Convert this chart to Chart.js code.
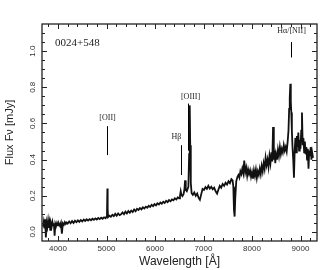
<!DOCTYPE html>
<html><head><meta charset="utf-8">
<script src="https://cdn.jsdelivr.net/npm/chart.js@4"></script>
<style>html,body{margin:0;padding:0;background:#fff}#wrap{width:327px;height:270px}</style>
</head><body><div id="wrap"><canvas id="c" width="327" height="270"></canvas></div>
<script>
const wavelength = [3690,3705,3720,3735,3750,3765,3780,3795,3810,3825,3840,3855,3870,3885,3900,3915,3930,3945,3960,3980,
4000,4020,4040,4060,4080,4100,4120,4140,4160,4180,4200,4230,4260,4290,4320,4350,4380,4410,4440,4470,
4500,4530,4560,4590,4620,4650,4680,4710,4740,4770,4800,4830,4860,4890,4920,4950,4980,5000,5010,5018,5024,5032,
5060,5090,5120,5150,5180,5210,5240,5270,5300,5330,5360,5390,5420,5450,5480,5510,5540,5570,5600,5630,5660,5690,
5720,5750,5780,5810,5840,5870,5900,5930,5960,5990,6020,6050,6080,6110,6140,6170,6200,6230,6260,6290,6320,6350,
6380,6410,6440,6470,6495,6515,6530,6545,6565,6590,6608,6620,6634,6655,6688,6704,6716,6726,6738,6755,6780,6810,
6840,6870,6900,6925,6950,6980,7010,7040,7070,7100,7130,7160,7190,7220,7250,7280,7305,7335,7365,7395,7425,7455,
7485,7515,7545,7575,7600,7615,7628,7642,7655,7675,7700,7720,7740,7760,7780,7800,7820,7840,7860,7880,7900,7920,
7940,7960,7980,8000,8020,8040,8060,8080,8100,8120,8140,8160,8180,8200,8220,8240,8260,8280,8300,8320,8340,8360,
8380,8400,8418,8434,8450,8465,8480,8495,8515,8535,8555,8575,8595,8615,8635,8655,8675,8695,8715,8735,8752,8766,
8778,8790,8800,8810,8822,8835,8850,8865,8880,8895,8910,8925,8940,8955,8970,8985,9000,9015,9030,9045,9060,9075,
9090,9105,9120,9135,9150,9165,9180,9195,9210,9225,9240,9258];
const flux = [0.030,0.055,0.020,0.070,-0.030,0.050,0.028,0.062,0.022,0.052,0.012,0.046,0.030,0.055,0.036,0.048,-0.020,0.044,0.032,0.050,
0.036,0.046,0.034,0.050,-0.010,0.048,0.040,0.054,0.044,0.052,0.046,0.058,0.048,0.060,0.050,0.062,0.054,0.064,0.056,0.066,
0.058,0.068,0.061,0.070,0.063,0.071,0.065,0.073,0.067,0.075,0.069,0.077,0.071,0.079,0.073,0.081,0.076,0.084,0.105,0.240,0.130,0.082,
0.090,0.084,0.095,0.088,0.100,0.090,0.102,0.093,0.098,0.108,0.098,0.112,0.102,0.116,0.106,0.118,0.110,0.124,0.115,0.128,0.122,0.132,
0.125,0.136,0.130,0.140,0.134,0.145,0.138,0.150,0.143,0.154,0.147,0.158,0.152,0.163,0.156,0.167,0.160,0.172,0.165,0.176,0.170,0.180,
0.175,0.186,0.180,0.192,0.186,0.200,0.225,0.205,0.198,0.210,0.240,0.285,0.232,0.225,0.250,0.430,0.700,0.480,0.270,0.215,0.205,0.218,
0.200,0.212,0.188,0.178,0.205,0.238,0.232,0.248,0.238,0.255,0.240,0.250,0.236,0.245,0.225,0.212,0.232,0.255,0.245,0.265,0.255,0.272,
0.262,0.280,0.270,0.292,0.285,0.250,0.120,0.085,0.190,0.280,0.305,0.315,0.300,0.335,0.320,0.350,0.325,0.395,0.330,0.355,0.310,0.345,
0.320,0.340,0.305,0.330,0.295,0.340,0.310,0.345,0.300,0.335,0.315,0.350,0.320,0.365,0.335,0.380,0.350,0.410,0.370,0.400,0.360,0.420,
0.380,0.440,0.390,0.580,0.400,0.450,0.380,0.430,0.400,0.455,0.420,0.470,0.430,0.460,0.440,0.480,0.450,0.470,0.445,0.500,0.560,0.680,
0.740,0.820,0.720,0.660,0.560,0.470,0.400,0.300,0.450,0.520,0.440,0.530,0.470,0.550,0.450,0.510,0.460,0.560,0.660,0.480,0.520,0.440,
0.500,0.430,0.470,0.400,0.460,0.350,0.450,0.420,0.470,0.400,0.440,0.410];
const xTickValues = [4000,5000,6000,7000,8000,9000];
const yTickValues = [0.0,0.2,0.4,0.6,0.8,1.0];
const lineNames = ['[OII]','H\u03b2','[OIII]','H\u03b1/[NII]'];
const lineWavelengths = [5020,6536,6670,8794];
const objectName = '0024+548';

const labelStyle = [
  {ty:0.63, top:0.585, bot:0.425, dx:0},
  {ty:0.525, top:0.48, bot:0.315, dx:-5},
  {ty:0.745, top:0.71, bot:0.45, dx:2},
  {ty:1.11, top:1.05, bot:0.965, dx:0}
];

const decor = {
  id:'decor',
  afterDraw(chart){
    const {ctx, chartArea:a, scales:{x,y}} = chart;
    ctx.save();
    ctx.strokeStyle='#222'; ctx.lineWidth=1.3;
    ctx.strokeRect(a.left, a.top, a.right-a.left, a.bottom-a.top);
    ctx.lineWidth=1;
    const seg=(x1,y1,x2,y2)=>{ctx.beginPath();ctx.moveTo(x1,y1);ctx.lineTo(x2,y2);ctx.stroke();};
    for(let v=3800; v<=9300; v+=200){
      const px=Math.round(x.getPixelForValue(v))+0.5;
      const L=(v%1000===0)?5:3;
      seg(px,a.bottom,px,a.bottom-L); seg(px,a.top,px,a.top+L);
    }
    for(let k=0; k<=22; k++){
      const v=k*0.05;
      const py=Math.round(y.getPixelForValue(v))+0.5;
      const L=(k%4===0)?5:3;
      seg(a.left,py,a.left+L,py); seg(a.right,py,a.right-L,py);
    }
    ctx.fillStyle='#333';
    ctx.font='8px "Liberation Sans", Arial, sans-serif';
    ctx.textAlign='center'; ctx.textBaseline='middle';
    yTickValues.forEach(v=>{
      ctx.save();
      ctx.translate(a.left-9, y.getPixelForValue(v));
      ctx.rotate(-Math.PI/2);
      ctx.fillText(v.toFixed(1),0,0);
      ctx.restore();
    });
    ctx.fillStyle='#222';
    ctx.font='11px "Liberation Serif", serif';
    ctx.textAlign='left';
    ctx.fillText(objectName, a.left+13, a.top+19);
    ctx.font='8px "Liberation Serif", serif';
    ctx.textAlign='center';
    ctx.strokeStyle='#000'; ctx.lineWidth=1;
    lineNames.forEach((n,i)=>{
      const s=labelStyle[i];
      const px=Math.round(x.getPixelForValue(lineWavelengths[i]))+0.5;
      ctx.fillText(n, px+s.dx, y.getPixelForValue(s.ty));
      seg(px, y.getPixelForValue(s.top), px, y.getPixelForValue(s.bot));
    });
    ctx.restore();
  }
};

new Chart(document.getElementById('c'), {
  type:'line',
  data:{datasets:[{
    data: wavelength.map((w,i)=>({x:w, y:flux[i]})),
    borderColor:'#111', borderWidth:1.8, pointRadius:0, tension:0, fill:false
  }]},
  options:{
    responsive:false, animation:false, devicePixelRatio:1,
    layout:{padding:{top:24, right:10, left:0, bottom:0}},
    plugins:{legend:{display:false}, tooltip:{enabled:false}},
    scales:{
      x:{type:'linear', min:3670, max:9340,
        grid:{display:false, drawTicks:false, tickLength:0}, border:{display:false},
        afterBuildTicks(s){ s.ticks = xTickValues.map(v=>({value:v})); },
        ticks:{autoSkip:false, maxRotation:0, padding:3,
          color:'#333', font:{size:8, family:'"Liberation Sans", Arial, sans-serif'},
          callback:(v)=> String(v)},
        title:{display:true, text:'Wavelength [\u00c5]', color:'#222',
          font:{size:12, family:'"Liberation Sans", Arial, sans-serif'}, padding:{top:0,bottom:1}},
        afterFit(s){ s.height=29; }
      },
      y:{min:-0.05, max:1.15,
        grid:{display:false, drawTicks:false, tickLength:0}, border:{display:false},
        ticks:{display:false, stepSize:0.2},
        title:{display:true, text:'Flux F\u03bd [mJy]', color:'#222',
          font:{size:11, family:'"Liberation Sans", Arial, sans-serif'}, padding:{top:3,bottom:0}},
        afterFit(s){ s.width=42; }
      }
    }
  },
  plugins:[decor]
});
</script>
</body></html>
